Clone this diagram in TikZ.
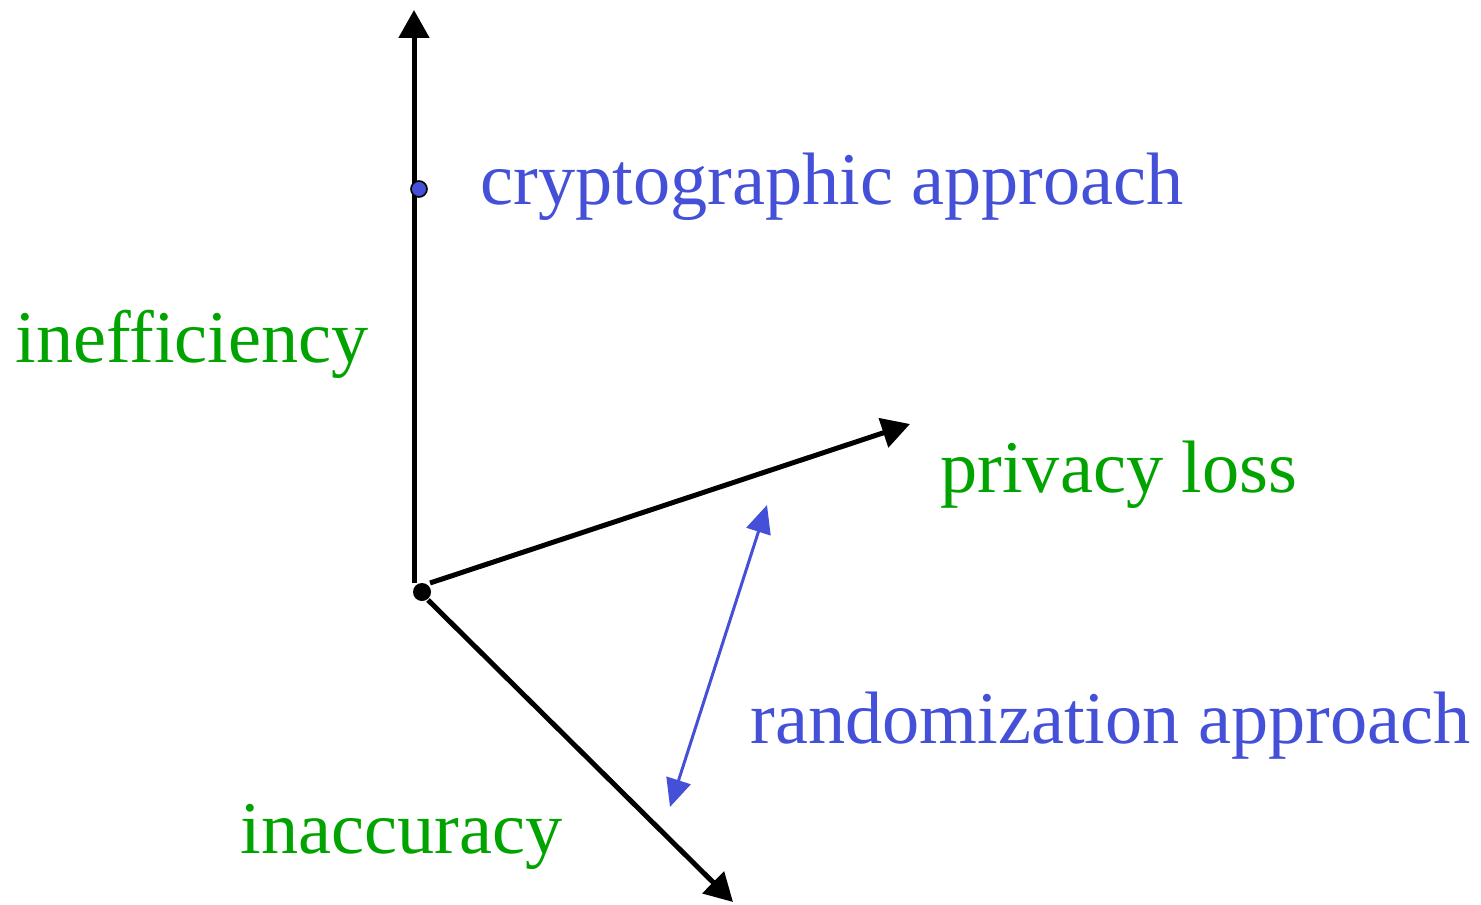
\documentclass[tikz,border=0pt]{standalone}
\usepackage{fontspec}
\setmainfont{Liberation Serif}
\usetikzlibrary{arrows.meta}
\definecolor{apblue}{RGB}{68,80,216}
\definecolor{axgreen}{RGB}{0,163,0}
\begin{document}
\begin{tikzpicture}[x=0.5pt,y=-0.5pt,
  axis/.style={line width=2.5pt,-{Triangle[length=14pt,width=15pt]}},
  span/.style={apblue,line width=1.5pt,{Triangle[length=14pt,width=12.5pt]}-{Triangle[length=14pt,width=12.5pt]}},
  lbl/.style={anchor=base west,inner sep=0pt,font=\fontsize{37.15}{44}\selectfont},
  dim/.style={lbl,text=axgreen},
  appr/.style={lbl,text=apblue}]
\useasboundingbox (0,0) rectangle (1481,904);
% axis end points
\coordinate (vbot) at (414,583);
\coordinate (vtop) at (414,10);
\coordinate (pbot) at (430,583);
\coordinate (ptip) at (910,424);
\coordinate (abot) at (428,600);
\coordinate (atip) at (733,902);
\coordinate (rtop) at (767,505);
\coordinate (rbot) at (670,807);
% axes
\draw[axis] (vbot) -- (vtop);
\draw[axis] (pbot) -- (ptip);
\draw[axis] (abot) -- (atip);
% origin and the cryptographic point
\node[circle,fill=black,inner sep=0pt,minimum size=9pt] (o) at (422,592) {};
\node[circle,fill=apblue,draw=black,line width=0.8pt,inner sep=0pt,minimum size=8pt] (c) at (419,189) {};
% range of the randomization approach
\draw[span] (rbot) -- (rtop);
% labels
\node[appr] (tc) at (480,204) {cryptographic approach};
\node[dim] (ti) at (15,362) {inefficiency};
\node[dim] (tp) at (940,492) {privacy loss};
\node[appr] (tr) at (750,743) {randomization approach};
\node[dim] (ta) at (240,853) {inaccuracy};
\end{tikzpicture}
\end{document}
